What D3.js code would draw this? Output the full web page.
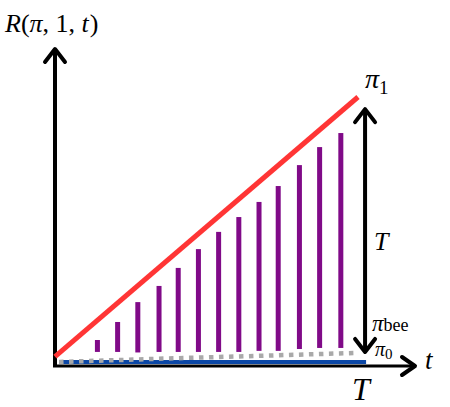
<!DOCTYPE html>
<html><head><meta charset="utf-8">
<script src="https://cdn.jsdelivr.net/npm/d3@7"></script>
<style>body{margin:0;background:#fff}svg{display:block}</style>
</head><body>
<svg id="c" width="450" height="407"></svg>
<script>
// ---- data ----
const barTimes   = [2.1, 3.1, 4.1, 5.15, 6.1, 7.1, 8.1, 9.1, 10.1, 11.05, 12.1, 13.1, 14.15];
const barTops    = [8.3, 15.1, 22.6, 28.7, 35.5, 42.6, 49.1, 54.7, 60.4, 66.4, 74.3, 81.1, 86.4];
const barBottoms = [3.8, 3.8, 3.6, 3.8, 3.8, 3.8, 3.8, 3.8, 4.2, 4.2, 4.9, 5.3, 5.3];
const pi1Times   = [0, 15];
const pi1Values  = [2, 100];
const beeTimes   = [0.2, 5, 10, 14.8];
const beeValues  = [0, 1.2, 2.3, 3.4];
const pi0Times   = [0.2, 15.4];
const pi0Values  = [0, 0];
const gapTime    = 15.35;
const gapRange   = [95.8, 3.4];

const svg = d3.select("#c");
const x = d3.scaleLinear().domain([0, 15]).range([55, 358]);
const y = d3.scaleLinear().domain([0, 100]).range([362, 97]);
const line = d3.line().x(d => x(d[0])).y(d => y(d[1]));

// pi0 (blue)
svg.append("path").attr("d", line(pi0Times.map((t,i)=>[t,pi0Values[i]])))
  .attr("stroke", "#0b47a6").attr("stroke-width", 4).attr("fill", "none");
// pi_bee gray dotted
svg.append("path").attr("d", line(beeTimes.map((t,i)=>[t,beeValues[i]])))
  .attr("stroke", "#a9a9a9").attr("stroke-width", 4.5).attr("stroke-dasharray", "4.5,5.5").attr("fill", "none");

// axes
const axisCol = "#000";
svg.append("line").attr("x1", 55).attr("y1", 366).attr("x2", 55).attr("y2", 50)
  .attr("stroke", axisCol).attr("stroke-width", 4);
svg.append("path").attr("d", "M45,62L55,49L65,62").attr("stroke", axisCol).attr("stroke-width", 4)
  .attr("fill", "none").attr("stroke-linecap", "round").attr("stroke-linejoin", "round");
svg.append("line").attr("x1", 53).attr("y1", 366).attr("x2", 414).attr("y2", 366)
  .attr("stroke", axisCol).attr("stroke-width", 3);
svg.append("path").attr("d", "M402,357L415,366L402,375").attr("stroke", axisCol).attr("stroke-width", 4)
  .attr("fill", "none").attr("stroke-linecap", "round").attr("stroke-linejoin", "round");

// bars
svg.selectAll("rect.bar").data(barTimes).enter().append("rect").attr("class","bar")
  .attr("x", d => x(d) - 2.5).attr("width", 5)
  .attr("y", (d,i) => y(barTops[i]))
  .attr("height", (d,i) => y(barBottoms[i]) - y(barTops[i]))
  .attr("fill", "#800a88");

// pi1 red line
svg.append("path").attr("d", line(pi1Times.map((t,i)=>[t,pi1Values[i]])))
  .attr("stroke", "#ff3535").attr("stroke-width", 5).attr("fill", "none");

// double arrow
const gx = x(gapTime), gy1 = y(gapRange[0]), gy2 = y(gapRange[1]);
svg.append("line").attr("x1", gx).attr("x2", gx).attr("y1", gy1 + 2).attr("y2", gy2 - 2)
  .attr("stroke", "#000").attr("stroke-width", 4);
svg.append("path").attr("d", `M${gx-10},${gy1+14}L${gx},${gy1+1}L${gx+10},${gy1+14}`)
  .attr("stroke", "#000").attr("stroke-width", 4).attr("fill", "none")
  .attr("stroke-linecap", "round").attr("stroke-linejoin", "round");
svg.append("path").attr("d", `M${gx-10},${gy2-14}L${gx},${gy2-1}L${gx+10},${gy2-14}`)
  .attr("stroke", "#000").attr("stroke-width", 4).attr("fill", "none")
  .attr("stroke-linecap", "round").attr("stroke-linejoin", "round");

// labels
const ff = "'Liberation Serif', 'DejaVu Serif', serif";
function txt(xp, yp, size) {
  return svg.append("text").attr("x", xp).attr("y", yp).attr("font-family", ff)
    .attr("font-size", size).attr("fill", "#000");
}
const r = txt(5, 32, 26);
r.append("tspan").attr("font-style", "italic").text("R");
r.append("tspan").text("(");
r.append("tspan").attr("font-style", "italic").text("π");
r.append("tspan").text(", 1, ");
r.append("tspan").attr("font-style", "italic").text("t");
r.append("tspan").attr("dx", 1).text(")");

const p1 = txt(365, 88, 28);
p1.append("tspan").attr("font-style", "italic").text("π");
p1.append("tspan").attr("font-size", 19).attr("dy", 6).text("1");

txt(374, 250, 26).attr("font-style", "italic").text("T");

const pb = txt(372, 331, 23);
pb.append("tspan").attr("font-style", "italic").text("π");
pb.append("tspan").attr("font-size", 18).attr("dy", 0).text("bee");

const p0 = txt(375, 356, 20);
p0.append("tspan").attr("font-style", "italic").text("π");
p0.append("tspan").attr("font-size", 15).attr("dy", 3).text("0");

txt(425, 369, 27).attr("font-style", "italic").text("t");
txt(352, 400, 32).attr("font-style", "italic").text("T");
</script>
</body></html>
